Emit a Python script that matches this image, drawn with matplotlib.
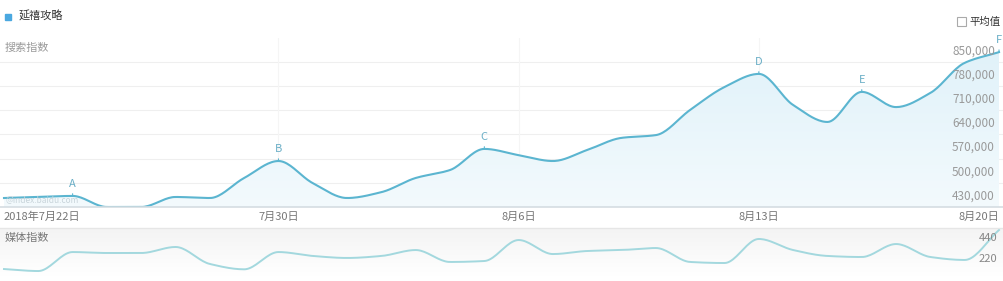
import numpy as np
import matplotlib
matplotlib.use('Agg')
import matplotlib.pyplot as plt
from matplotlib.patches import Rectangle

plt.rcParams['font.family'] = ['Noto Sans CJK SC', 'DejaVu Sans']

# datos (un punto por día, 2018-07-22 .. 2018-08-20)
dias = np.arange(30)
busqueda = [456000, 459000, 462000, 430000, 430000, 459000, 456000, 514000, 563000, 499000,
            456000, 473000, 514000, 537000, 598000, 580000, 563000, 595000, 630000, 638000,
            711000, 777000, 815000, 725000, 676000, 763000, 719000, 760000, 847000, 878000]
medios = [115, 94, 293, 283, 283, 346, 168, 112, 293, 252,
          231, 252, 314, 189, 199, 419, 272, 304, 314, 335,
          189, 178, 430, 314, 252, 241, 377, 241, 210, 524]
marcas = ['A', 'B', 'C', 'D', 'E', 'F']
dias_marca = [2, 8, 14, 22, 25, 29]
y_ticks = [430000, 500000, 570000, 640000, 710000, 780000, 850000]
y_labels = ['430,000', '500,000', '570,000', '640,000', '710,000', '780,000', '850,000']
x_ticks = [0, 8, 15, 22, 29]
x_labels = ['2018年7月22日', '7月30日', '8月6日', '8月13日', '8月20日']
medios_ticks = [220, 440]

W, H = 1004, 281
color_linea = '#5bb5d0'
color_medios = '#a3d8de'
gris = '#9a9a9a'


def suavizar(x, y, n=20):
    # spline cúbica monótona (Fritsch-Carlson) solo para dibujar
    x = np.asarray(x, float)
    y = np.asarray(y, float)
    h = np.diff(x)
    d = np.diff(y) / h
    m = np.zeros_like(y)
    m[0], m[-1] = d[0], d[-1]
    for i in range(1, len(y) - 1):
        if d[i - 1] * d[i] <= 0:
            m[i] = 0
        else:
            m[i] = 2 / (1 / d[i - 1] + 1 / d[i])
    xs, ys = [], []
    for i in range(len(x) - 1):
        t = np.linspace(0, 1, n, endpoint=False)
        h00 = 2 * t**3 - 3 * t**2 + 1
        h10 = t**3 - 2 * t**2 + t
        h01 = -2 * t**3 + 3 * t**2
        h11 = t**3 - t**2
        xs.append(x[i] + t * h[i])
        ys.append(h00 * y[i] + h10 * h[i] * m[i] + h01 * y[i + 1] + h11 * h[i] * m[i + 1])
    xs.append([x[-1]])
    ys.append([y[-1]])
    return np.concatenate(xs), np.concatenate(ys)


def px_ax(fig, x0, y0, x1, y1):
    return fig.add_axes([x0 / W, 1 - y1 / H, (x1 - x0) / W, (y1 - y0) / H])


fig = plt.figure(figsize=(W / 100, H / 100), dpi=100)
fig.patch.set_facecolor('white')

escala = 995 / 29
xlim = (-4 / escala, 29 + 5 / escala)

# ---- panel principal ----
ax = px_ax(fig, 0, 38, W, 207)
ylim = (430000, 430000 + 169 * 70000 / 24.2)
ax.set_xlim(xlim)
ax.set_ylim(ylim)
for s in ax.spines.values():
    s.set_visible(False)
ax.set_xticks([])
ax.set_yticks([])

for v in y_ticks[1:]:
    ax.axhline(v, color='#efefef', lw=0.8, zorder=0)
for d in x_ticks[1:-1]:
    ax.axvline(d, color='#f5f5f5', lw=0.8, zorder=0)
ax.axhline(ylim[0], color='#d5dde2', lw=1.2, zorder=4, clip_on=False)

xs, ys = suavizar(dias, busqueda)
grad = np.linspace(0, 1, 256).reshape(-1, 1)
img = ax.imshow(grad, extent=(xlim[0], xlim[1], ylim[0], ylim[1]), aspect='auto',
                cmap=matplotlib.colors.LinearSegmentedColormap.from_list('f', ['#f3fafd', '#dff1f9']),
                origin='lower', zorder=1)
poli = ax.fill_between(xs, ys, ylim[0], color='none')
img.set_clip_path(poli.get_paths()[0], transform=ax.transData)
ax.plot(xs, ys, color=color_linea, lw=1.5, zorder=3)

for v, t in zip(y_ticks, y_labels):
    ax.annotate(t, (29, v), xytext=(-4, 11), textcoords='offset pixels',
                ha='right', va='center', fontsize=8.5, color=gris, zorder=5)

for letra, d in zip(marcas, dias_marca):
    v = busqueda[d]
    ax.annotate('', (d, v), xytext=(0, 5), textcoords='offset pixels',
                arrowprops=dict(arrowstyle='-', color=color_linea, lw=0.8))
    ax.annotate(letra, (d, v), xytext=(0, 12), textcoords='offset pixels',
                ha='center', va='center', fontsize=8, color='#6aaec6', zorder=5)

ax.text(0.005, 0.94, '搜索指数', transform=ax.transAxes, fontsize=8, color=gris, va='center')
ax.text(0.005, 0.045, '@index.baidu.com', transform=ax.transAxes, fontsize=6, color='#c8d4da', va='center')

# ---- eje de fechas ----
for d, t in zip(x_ticks, x_labels):
    ha = 'left' if d == 0 else ('right' if d == 29 else 'center')
    fig.text((4 + d * escala) / W, 1 - 217 / H, t, ha=ha, va='center', fontsize=8, color='#777777')
fig.add_artist(plt.Line2D([0, 1], [1 - 228 / H, 1 - 228 / H], color='#e6e6e6', lw=1))

# ---- panel de medios ----
axm = px_ax(fig, 0, 229, W, 276)
mylim = ((280 - 276) * 10.48, (280 - 229) * 10.48)
axm.set_xlim(xlim)
axm.set_ylim(mylim)
for s in axm.spines.values():
    s.set_visible(False)
axm.set_xticks([])
axm.set_yticks([])
axm.imshow(grad, extent=(xlim[0], xlim[1], mylim[0], mylim[1]), aspect='auto',
           cmap=matplotlib.colors.LinearSegmentedColormap.from_list('g', ['#ffffff', '#f4f4f4']),
           origin='lower', zorder=0)
mx, my = suavizar(dias, medios)
axm.plot(mx, my, color=color_medios, lw=1.4, zorder=2)
for v in medios_ticks:
    axm.text(29 - 2 / escala, v, str(v), ha='right', va='center', fontsize=8, color='#888888', zorder=3)
axm.text(0.005, 0.8, '媒体指数', transform=axm.transAxes, fontsize=8, color='#777777', va='center')

# ---- cabecera ----
fig.add_artist(Rectangle((5 / W, 1 - 20 / H), 6 / W, 6 / H, color='#4aa8e0', transform=fig.transFigure))
fig.text(19 / W, 1 - 16 / H, '延禧攻略', fontsize=8, color='#333333', va='center')
fig.add_artist(Rectangle((957 / W, 1 - 26 / H), 9 / W, 9 / H, facecolor='white', edgecolor='#aaaaaa',
                         lw=0.8, transform=fig.transFigure))
fig.text(969 / W, 1 - 21.5 / H, '平均值', fontsize=7.5, color='#333333', va='center')

fig.savefig('out.png', dpi=100)
